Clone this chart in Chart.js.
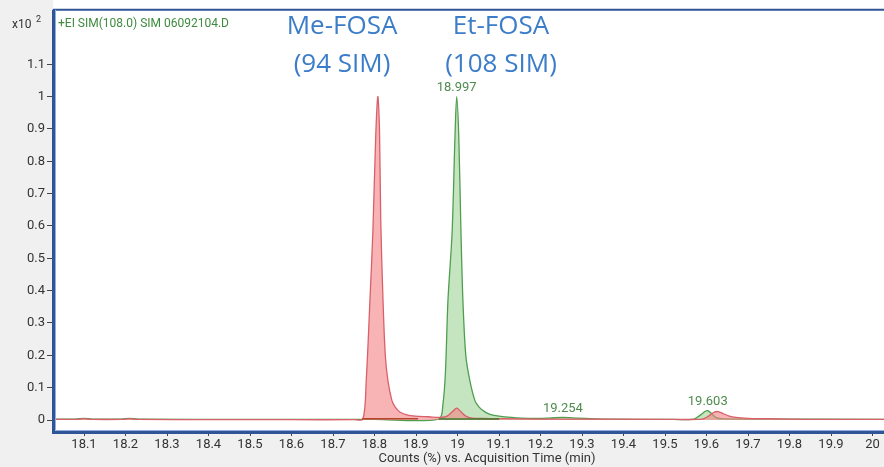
<!DOCTYPE html>
<html>
<head>
<meta charset="utf-8">
<script src="https://cdn.jsdelivr.net/npm/chart.js@4.4.1/dist/chart.umd.min.js"></script>
<style>
html,body{margin:0;padding:0;background:#fff;}
#wrap{width:884px;height:467px;position:relative;}
</style>
</head>
<body>
<div id="wrap"><canvas id="c" width="884" height="467"></canvas></div>
<script>
// ---- Data ----
const xTickValues = [18.1,18.2,18.3,18.4,18.5,18.6,18.7,18.8,18.9,19.0,19.1,19.2,19.3,19.4,19.5,19.6,19.7,19.8,19.9,20.0];
const xTickLabels = ['18.1','18.2','18.3','18.4','18.5','18.6','18.7','18.8','18.9','19','19.1','19.2','19.3','19.4','19.5','19.6','19.7','19.8','19.9','20'];
const yTickValues = [0,0.1,0.2,0.3,0.4,0.5,0.6,0.7,0.8,0.9,1.0,1.1];
const yTickLabels = ['0','0.1','0.2','0.3','0.4','0.5','0.6','0.7','0.8','0.9','1','1.1'];

// Me-FOSA (94 SIM) trace, red
const redTimes  = [18.025,18.08,18.1,18.12,18.19,18.21,18.23,18.4,18.6,18.75,18.772,18.78,18.789,18.796,18.803,18.808,18.812,18.815,18.8205,18.826,18.8325,18.842,18.85,18.861,18.878,18.898,18.93,18.96,18.975,18.988,18.998,19.008,19.02,19.035,19.06,19.1,19.2,19.3,19.5,19.59,19.605,19.618,19.628,19.64,19.655,19.67,19.7,19.75,19.8,19.85,20.03];
const redValues = [0.002,0.002,0.004,0.002,0.002,0.004,0.002,0.001,0.001,0.001,0.003,0.12,0.37,0.58,0.88,1.0,0.9,0.62,0.37,0.2,0.12,0.06,0.04,0.025,0.016,0.012,0.010,0.008,0.012,0.026,0.037,0.026,0.012,0.006,0.005,0.004,0.003,0.003,0.002,0.003,0.012,0.024,0.026,0.020,0.012,0.008,0.005,0.004,0.003,0.002,0.002];

// Et-FOSA (108 SIM) trace, green
const greenTimes  = [18.025,18.08,18.1,18.12,18.19,18.21,18.23,18.5,18.8,18.955,18.965,18.971,18.977,18.987,18.994,18.998,19.003,19.008,19.013,19.02,19.03,19.042,19.052,19.066,19.08,19.1,19.13,19.17,19.22,19.254,19.29,19.35,19.5,19.57,19.585,19.597,19.603,19.612,19.622,19.635,19.7,20.03];
const greenValues = [0.003,0.003,0.005,0.003,0.003,0.005,0.003,0.002,0.002,0.003,0.05,0.15,0.37,0.58,0.88,1.0,0.88,0.6,0.37,0.2,0.12,0.06,0.04,0.025,0.017,0.012,0.008,0.005,0.006,0.008,0.006,0.003,0.002,0.003,0.015,0.027,0.029,0.020,0.008,0.004,0.003,0.002];

// integration baselines
const redBaseTimes  = [18.77,18.905];
const redBaseValues = [0.004,0.004];
const greenBaseTimes  = [18.955,19.1];
const greenBaseValues = [0.003,0.003];

// peak labels
const peakLabelTimes  = [18.998,19.254,19.603];
const peakLabelValues = [1.0,0.008,0.029];
const peakLabelTexts  = ['18.997','19.254','19.603'];

const toPts = (xs, ys) => xs.map((x,i)=>({x:x,y:ys[i]}));

const AXIS_BLUE = '#2f5597';
const FONT = 'Roboto, "Liberation Sans", sans-serif';

const decorPlugin = {
  id:'decor',
  beforeDraw(chart){
    const ctx = chart.ctx, a = chart.chartArea;
    ctx.save();
    ctx.fillStyle = '#f0f0f0';
    ctx.fillRect(0,0,chart.width,chart.height);
    ctx.fillStyle = '#ffffff';
    ctx.fillRect(a.left, 0, chart.width - a.left, a.bottom);
    ctx.restore();
  },
  afterDatasetsDraw(chart){
    const ctx = chart.ctx, a = chart.chartArea;
    const xs = chart.scales.x, ys = chart.scales.y;
    ctx.save();
    // peak labels
    ctx.font = '13px ' + FONT;
    ctx.fillStyle = '#4e8c4e';
    ctx.textAlign = 'center';
    ctx.textBaseline = 'middle';
    peakLabelTexts.forEach((t,i)=>{
      ctx.fillText(t, xs.getPixelForValue(peakLabelTimes[i]), ys.getPixelForValue(peakLabelValues[i]) - 9);
    });
    // borders
    ctx.strokeStyle = AXIS_BLUE;
    ctx.lineWidth = 2;
    ctx.beginPath(); ctx.moveTo(a.left, a.top); ctx.lineTo(chart.width, a.top); ctx.stroke();
    ctx.lineWidth = 3;
    ctx.beginPath(); ctx.moveTo(a.left+0.5, a.top); ctx.lineTo(a.left+0.5, a.bottom+1.5); ctx.lineTo(chart.width, a.bottom+1.5); ctx.stroke();
    ctx.strokeStyle = '#8fb0e0';
    ctx.lineWidth = 1;
    ctx.beginPath(); ctx.moveTo(a.left+2.5, a.top); ctx.lineTo(a.left+2.5, a.bottom-0.5); ctx.lineTo(chart.width, a.bottom-0.5); ctx.stroke();
    // header text
    ctx.textAlign = 'left';
    ctx.font = '12px ' + FONT;
    ctx.fillStyle = '#3f8a3f';
    ctx.fillText('+EI SIM(108.0) SIM 06092104.D', a.left + 5, 24);
    ctx.fillStyle = '#333';
    ctx.font = '12px ' + FONT;
    ctx.fillText('x10', 12, 25);
    ctx.font = '9px ' + FONT;
    ctx.fillText('2', 36, 20);
    // compound annotations
    ctx.font = '26px "Open Sans", sans-serif';
    ctx.fillStyle = '#3b7dc8';
    ctx.textAlign = 'center';
    ctx.fillText('Me-FOSA', 342, 27);
    ctx.fillText('(94 SIM)', 342, 65);
    ctx.fillText('Et-FOSA', 501, 27);
    ctx.fillText('(108 SIM)', 501, 65);
    // x title
    ctx.font = '13px ' + FONT;
    ctx.fillStyle = '#333';
    ctx.fillText('Counts (%) vs. Acquisition Time (min)', 487, 459);
    ctx.restore();
  }
};

new Chart(document.getElementById('c'), {
  type:'line',
  data:{
    datasets:[
      {label:'redBase', data:toPts(redBaseTimes, redBaseValues), borderColor:'#b8442c', borderWidth:1.5, pointRadius:0, fill:false, tension:0},
      {label:'greenBase', data:toPts(greenBaseTimes, greenBaseValues), borderColor:'#3d7a2c', borderWidth:1.5, pointRadius:0, fill:false, tension:0},
      {label:'Me-FOSA (94 SIM)', data:toPts(redTimes, redValues), borderColor:'#d9606a', backgroundColor:'rgba(244,130,130,0.6)', borderWidth:1.3, pointRadius:0, fill:'origin', tension:0.3},
      {label:'Et-FOSA (108 SIM)', data:toPts(greenTimes, greenValues), borderColor:'#4f9e4f', backgroundColor:'rgba(150,208,140,0.55)', borderWidth:1.3, pointRadius:0, fill:'origin', tension:0.3}
    ]
  },
  options:{
    responsive:false,
    animation:false,
    events:[],
    layout:{padding:{top:9,right:0,left:0,bottom:0}},
    plugins:{legend:{display:false}, tooltip:{enabled:false}},
    scales:{
      x:{
        type:'linear',
        min:18.0253, max:20.0277,
        afterFit(s){ s.height = 36; },
        afterBuildTicks(s){ s.ticks = xTickValues.map(v=>({value:v})); },
        border:{display:false},
        grid:{drawOnChartArea:false, drawTicks:true, tickLength:5, color:'#444', lineWidth:1},
        ticks:{autoSkip:false, maxRotation:0, padding:1, color:'#333', font:{family:FONT, size:13},
          callback(v){ const i = xTickValues.findIndex(t=>Math.abs(t-v)<1e-6); return i>=0 ? xTickLabels[i] : ''; }}
      },
      y:{
        type:'linear',
        min:-0.034, max:1.2685,
        afterFit(s){ s.width = 53; },
        afterBuildTicks(s){ s.ticks = yTickValues.map(v=>({value:v})); },
        border:{display:false},
        grid:{drawOnChartArea:false, drawTicks:true, tickLength:6, color:'#444', lineWidth:1},
        ticks:{autoSkip:false, padding:2, color:'#333', font:{family:FONT, size:13},
          callback(v){ const i = yTickValues.findIndex(t=>Math.abs(t-v)<1e-6); return i>=0 ? yTickLabels[i] : ''; }}
      }
    }
  },
  plugins:[decorPlugin]
});
</script>
</body>
</html>
